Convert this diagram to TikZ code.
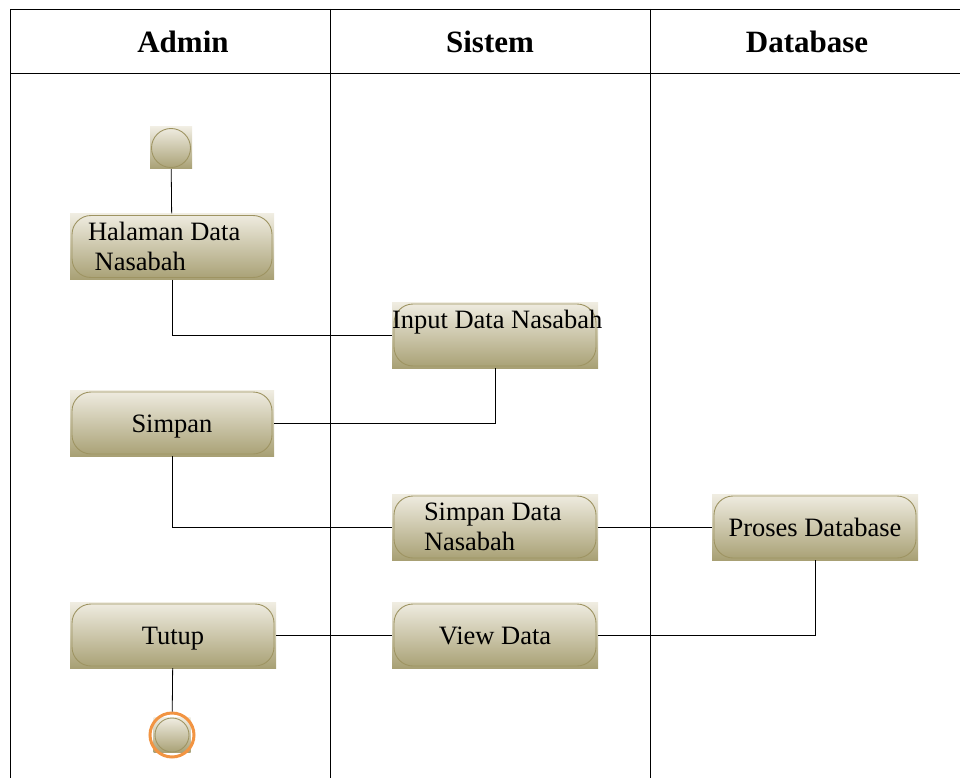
\documentclass[tikz,border=0pt]{standalone}
\usepackage{fontspec}
\setmainfont{Liberation Serif}
\usetikzlibrary{positioning}

\definecolor{boxtop}{RGB}{240,237,226}
\definecolor{boxbot}{RGB}{168,160,116}
\definecolor{boxline}{RGB}{158,148,98}
\definecolor{ringcol}{RGB}{242,148,66}

\tikzset{
	act/.style={minimum width=204pt, minimum height=66pt, inner sep=0pt,
		top color=boxtop, bottom color=boxbot, align=flush left,
		font=\fontsize{26.5}{30}\selectfont,
		path picture={\draw[boxline, line width=0.9pt, rounded corners=19pt]
			([shift={(2pt,2pt)}]path picture bounding box.south west) rectangle
			([shift={(-2pt,-2pt)}]path picture bounding box.north east);}},
	oneline/.style={text height=18pt, text depth=0pt},
	initbox/.style={minimum size=42pt, inner sep=0pt, top color=boxtop, bottom color=boxbot,
		path picture={\draw[boxline, line width=0.9pt] (path picture bounding box.center) circle (19.5pt);}},
	finalbox/.style={minimum width=37pt, minimum height=35pt, inner sep=0pt, top color=boxtop, bottom color=boxbot,
		path picture={\draw[boxline, line width=0.9pt] (path picture bounding box.center) circle (17pt);}},
	finalring/.style={circle, draw=ringcol, line width=3pt, minimum size=44pt, inner sep=0pt},
	lane/.style={line width=0.8pt},
	flow/.style={line width=0.8pt},
	head/.style={font=\fontsize{31}{36}\selectfont\bfseries}
}

\begin{document}
\begin{tikzpicture}[x=1pt, y=-1pt]
	\useasboundingbox (0,0) rectangle (960,778);

	% Swimlanes
	\draw[lane] (10,778) -- (10,9) -- (960,9);
	\draw[lane] (10,73) -- (960,73);
	\draw[lane] (330,9) -- (330,778);
	\draw[lane] (650,9) -- (650,778);
	\node[head] (hadmin) at (183,42) {Admin};
	\node[head] (hsistem) at (490,42) {Sistem};
	\node[head] (hdb) at (807,42) {Database};

	% Activities
	\node[initbox] (start) at (171,148) {};
	\node[act, text width=168pt] (halaman) at (172,246.5) {Halaman Data\\ \ Nasabah};
	\node[act, minimum width=206pt, text width=206pt, text height=24pt, text depth=38pt] (input) at (495,335) {\mbox{Input Data Nasabah}};
	\node[act, oneline] (simpan) at (172,423) {Simpan};
	\node[act, minimum width=206pt, text width=142pt] (simpandata) at (495,527) {Simpan Data\\Nasabah};
	\node[act, oneline, minimum width=206pt] (proses) at (815,527) {Proses Database};
	\node[act, oneline, minimum width=206pt] (tutup) at (173,635) {Tutup};
	\node[act, oneline, minimum width=206pt] (viewdata) at (495,635) {View Data};
	\node[finalbox] (end) at (172,735) {};
	\node[finalring] (endring) at (end) {};

	% Flow
	\draw[flow] (start) -- (halaman);
	\draw[flow] (halaman.south) |- (input.west);
	\draw[flow] (input.south) |- (simpan.east);
	\draw[flow] (simpan.south) |- (simpandata.west);
	\draw[flow] (simpandata) -- (proses);
	\draw[flow] (proses.south) |- (viewdata.east);
	\draw[flow] (viewdata) -- (tutup);
	\draw[flow] (tutup) -- (endring);
\end{tikzpicture}
\end{document}
